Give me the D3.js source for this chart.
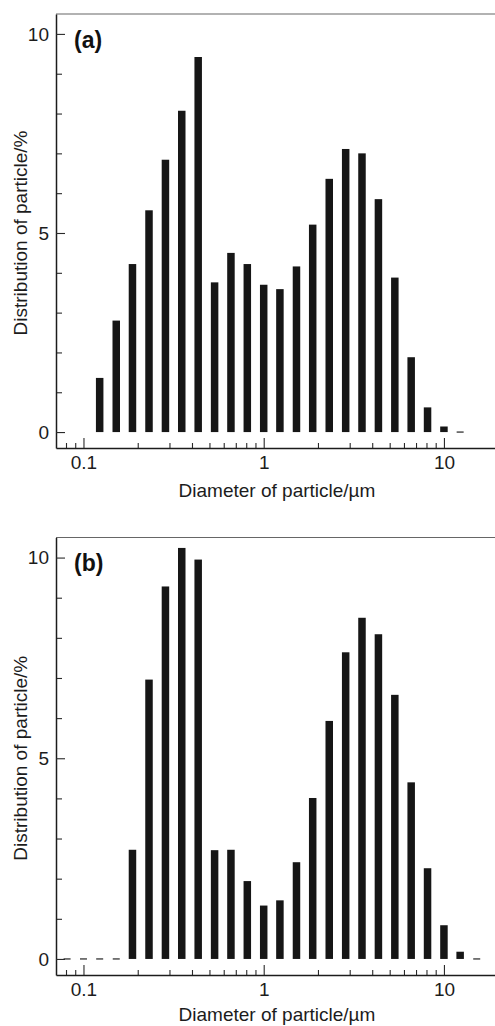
<!DOCTYPE html>
<html>
<head>
<meta charset="utf-8">
<script src="https://cdn.jsdelivr.net/npm/d3@7"></script>
<style>
  html, body { margin: 0; padding: 0; background: #fff; }
  svg { display: block; font-family: 'Liberation Sans', Arial, sans-serif; }
</style>
</head>
<body>
<div id="chart-container"></div>
<script>
// particle size bins (µm) and distribution (%)
const diametersA = [0.123, 0.152, 0.187, 0.231, 0.285, 0.351, 0.433, 0.534, 0.658, 0.811, 1, 1.23,
  1.52, 1.87, 2.31, 2.85, 3.51, 4.33, 5.34, 6.58, 8.11, 10, 12.3]
const distributionA = [1.36, 2.8, 4.22, 5.57, 6.84, 8.07, 9.42, 3.76, 4.5, 4.22, 3.7, 3.59,
  4.16, 5.21, 6.36, 7.11, 7.0, 5.85, 3.88, 1.88, 0.62, 0.14, 0]

const diametersB = [0.0811, 0.1, 0.123, 0.152, 0.187, 0.231, 0.285, 0.351, 0.433, 0.534, 0.658, 0.811,
  1, 1.23, 1.52, 1.87, 2.31, 2.85, 3.51, 4.33, 5.34, 6.58, 8.11, 10, 12.3, 15.2]
const distributionB = [0, 0, 0, 0, 2.72, 6.96, 9.28, 10.24, 9.95, 2.71, 2.72, 1.94,
  1.33, 1.46, 2.41, 4.01, 5.93, 7.64, 8.5, 8.09, 6.58, 4.4, 2.26, 0.84, 0.18, 0]

const yMajorTicks = [0, 5, 10]
const yMinorTicks = [1, 2, 3, 4, 6, 7, 8, 9]
const xMajorTicks = [0.1, 1, 10]
const xMinorTicks = [0.08, 0.09, 0.2, 0.3, 0.4, 0.5, 0.6, 0.7, 0.8, 0.9, 2, 3, 4, 5, 6, 7, 8, 9]

const xLabel = 'Diameter of particle/µm'
const yLabel = 'Distribution of particle/%'

const chartWidth = 495
const chartHeight = 1026
const plotLeft = 56
const barWidth = 7.5
const ink = '#161616'

const panels = [
  { tag: '(a)', diameters: diametersA, values: distributionA, top: 14, bottom: 448, labelY: 497 },
  { tag: '(b)', diameters: diametersB, values: distributionB, top: 537.5, bottom: 975, labelY: 1021 }
]

const svg = d3
  .select('#chart-container')
  .append('svg')
  .attr('width', chartWidth)
  .attr('height', chartHeight)

svg.append('rect').attr('width', chartWidth).attr('height', chartHeight).attr('fill', '#fff')

// 0.1 sits at x=83.5, 10 at x=444
const xScale = d3.scaleLog().domain([0.0704, 19.2]).range([plotLeft, chartWidth])

const drawPanel = ({ tag, diameters, values, top, bottom, labelY }) => {
  const g = svg.append('g')
  const yScale = d3.scaleLinear().domain([-0.4, 10.5]).range([bottom, top])
  const data = diameters.map((d, i) => ({ d, v: values[i] }))

  g.selectAll('rect.bar')
    .data(data.filter(({ v }) => v > 0))
    .enter()
    .append('rect')
    .attr('class', 'bar')
    .attr('x', ({ d }) => xScale(d) - barWidth / 2)
    .attr('width', barWidth)
    .attr('y', ({ v }) => yScale(v))
    .attr('height', ({ v }) => yScale(0) - yScale(v))
    .attr('fill', ink)

  // empty bins are drawn as short dashes on the zero line
  g.selectAll('line.empty')
    .data(data.filter(({ v }) => v === 0))
    .enter()
    .append('line')
    .attr('class', 'empty')
    .attr('x1', ({ d }) => xScale(d) - 3.5)
    .attr('x2', ({ d }) => xScale(d) + 3.5)
    .attr('y1', yScale(0))
    .attr('y2', yScale(0))
    .attr('stroke', '#333')
    .attr('stroke-width', 1.3)

  // top frame line
  g.append('line')
    .attr('x1', plotLeft)
    .attr('x2', chartWidth)
    .attr('y1', top)
    .attr('y2', top)
    .attr('stroke', '#666')
    .attr('stroke-width', 1.2)

  const yMinor = g
    .append('g')
    .attr('transform', `translate(${plotLeft},0)`)
    .call(d3.axisLeft(yScale).tickValues(yMinorTicks).tickSize(-6).tickSizeOuter(0).tickFormat(''))
  yMinor.select('.domain').remove()

  const yAxis = g
    .append('g')
    .attr('transform', `translate(${plotLeft},0)`)
    .call(d3.axisLeft(yScale).tickValues(yMajorTicks).tickSize(-9).tickSizeOuter(0).tickPadding(7))

  const xMinor = g
    .append('g')
    .attr('transform', `translate(0,${bottom})`)
    .call(d3.axisBottom(xScale).tickValues(xMinorTicks).tickSize(-5).tickSizeOuter(0).tickFormat(''))
  xMinor.select('.domain').remove()

  const xAxis = g
    .append('g')
    .attr('transform', `translate(0,${bottom})`)
    .call(
      d3
        .axisBottom(xScale)
        .tickValues(xMajorTicks)
        .tickSize(-10)
        .tickSizeOuter(0)
        .tickPadding(7.5)
        .tickFormat(d3.format('~g'))
    )

  g.selectAll('.domain').attr('stroke', '#1c1c1c').attr('stroke-width', 1.5)
  g.selectAll('.tick line').attr('stroke', '#2a2a2a').attr('stroke-width', 1.1)
  ;[yAxis, xAxis].forEach(axis =>
    axis.selectAll('text').attr('font-size', 19).attr('fill', '#1c1c1c').attr('font-family', null)
  )

  g.append('text')
    .attr('x', 74)
    .attr('y', top + 33.5)
    .attr('font-size', 23)
    .attr('font-weight', 'bold')
    .attr('fill', '#111')
    .text(tag)

  g.append('text')
    .attr('x', 277)
    .attr('y', labelY)
    .attr('text-anchor', 'middle')
    .attr('font-size', 19)
    .attr('fill', '#1c1c1c')
    .text(xLabel)

  g.append('text')
    .attr('transform', `translate(27,${yScale(5)}) rotate(-90)`)
    .attr('text-anchor', 'middle')
    .attr('font-size', 19)
    .attr('fill', '#1c1c1c')
    .text(yLabel)
}

panels.forEach(drawPanel)
</script>
</body>
</html>
